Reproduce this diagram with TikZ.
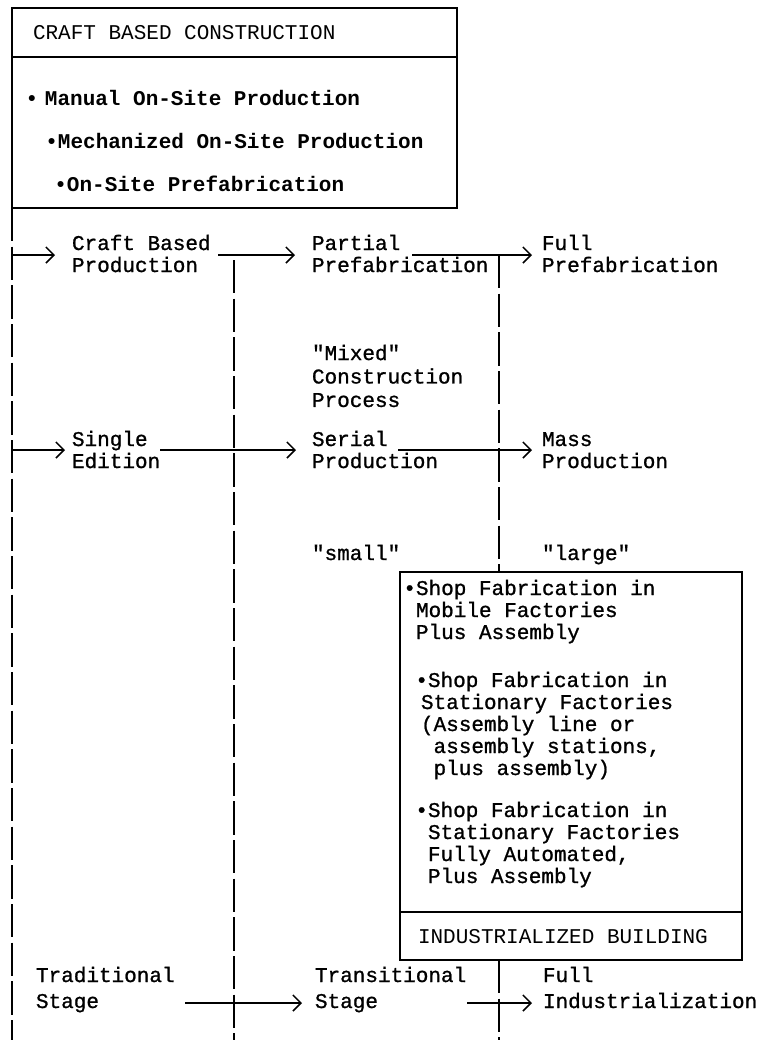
\documentclass[tikz,border=0pt]{standalone}
\usepackage{fontspec}
\setmainfont{Liberation Mono}[Ligatures=TeXOff]
\newfontfamily\bodyfont{Liberation Mono}[Ligatures=TeXOff,FakeBold=1]
\usetikzlibrary{arrows.meta,fit}
\newcommand{\fs}{\fontsize{15.75pt}{16.5pt}\selectfont}
\newcommand{\tstrut}{\rule{0pt}{12pt}}
\newcommand{\bul}[1][0pt]{\llap{•\kern#1}}
\begin{document}
\begin{tikzpicture}[x=0.75pt,y=-0.75pt,
  txt/.style={inner sep=0pt, outer sep=0pt, anchor=north west, align=left, font=\bodyfont\fs},
  light/.style={font=\normalfont\fs},
  bold/.style={font=\normalfont\fs\bfseries},
  boxed/.style={draw, line width=1.5pt, inner sep=0pt, outer sep=0pt},
  vline/.style={line width=1.1pt, dash pattern=on 25pt off 4pt},
  arr/.style={line width=1.1pt, -{Straight Barb[length=6pt,width=12pt]}}]
\fill[white] (0,0) rectangle (765,1040);
\useasboundingbox (0,0) rectangle (765,1040);

% top box
\node[boxed, fit={(12,8) (457,208)}] (cbc) {};
\coordinate (hdiv) at (0,57);
\draw[line width=1.5pt] (cbc.west |- hdiv) -- (cbc.east |- hdiv);
\node[txt,light] (hdr) at (33,23) {\tstrut CRAFT BASED CONSTRUCTION};
\node[txt,bold] (b1) at (45,89) {\tstrut\bul[5pt]Manual On-Site Production};
\node[txt,bold] (b2) at (58,132) {\tstrut\bul Mechanized On-Site Production};
\node[txt,bold] (b3) at (67,175) {\tstrut\bul On-Site Prefabrication};

% bottom box
\node[boxed, fit={(400,572) (742,960)}] (ibox) {};
\coordinate (idiv) at (0,912);
\draw[line width=1.5pt] (ibox.west |- idiv) -- (ibox.east |- idiv);
\node[txt] (g1) at (416,579) {\tstrut\bul Shop Fabrication in\\Mobile Factories\\Plus Assembly};
\node[txt] (g2) at (421,671) {\tstrut\kern5.25pt\bul Shop Fabrication in\\Stationary Factories\\(Assembly line or\\\phantom{(}assembly stations,\\\phantom{(}plus assembly)};
\node[txt] (g3) at (428,801) {\tstrut\bul Shop Fabrication in\\Stationary Factories\\Fully Automated,\\Plus Assembly};
\node[txt,light] (ind) at (418,927) {\tstrut INDUSTRIALIZED BUILDING};

% row texts
\node[txt] (t11) at (72,234) {\tstrut Craft Based\\Production};
\node[txt] (t12) at (312,234) {\tstrut Partial\\Prefabrication};
\node[txt] (t13) at (542,234) {\tstrut Full\\Prefabrication};
\node[txt,font=\bodyfont\fontsize{15.75pt}{17.6pt}\selectfont] (mix) at (312,344) {\tstrut "Mixed"\\Construction\\Process};
\node[txt] (t21) at (72,430) {\tstrut Single\\Edition};
\node[txt] (t22) at (312,430) {\tstrut Serial\\Production};
\node[txt] (t23) at (542,430) {\tstrut Mass\\Production};
\node[txt] (sml) at (312,544) {\tstrut "small"};
\node[txt] (lrg) at (542,544) {\tstrut "large"};
\node[txt,font=\bodyfont\fontsize{15.75pt}{19.5pt}\selectfont] (t31) at (36,966) {\tstrut Traditional\\Stage};
\node[txt,font=\bodyfont\fontsize{15.75pt}{19.5pt}\selectfont] (t32) at (315,966) {\tstrut Transitional\\Stage};
\node[txt,font=\bodyfont\fontsize{15.75pt}{19.5pt}\selectfont] (t33) at (543,966) {\tstrut Full\\Industrialization};

% vertical lines
\coordinate (bot) at (0,1040);
\coordinate (mtop) at (234,260);
\coordinate (rtop) at (499,255);
\draw[vline] (cbc.south west) -- (cbc.south west |- bot);
\draw[vline] (mtop) -- (mtop |- bot);
\draw[vline] (rtop) -- (rtop |- ibox.north);
\draw[vline] (rtop |- ibox.south) -- (rtop |- bot);

% arrows row 1
\coordinate (r1) at (0,255);
\coordinate (s12) at (218,255);
\coordinate (s13) at (412,255);
\draw[arr, shorten >=12.75pt] (cbc.south west |- r1) -- (t11.west |- r1);
\draw[arr, shorten >=12.75pt] (s12) -- (t12.west |- r1);
\draw[arr, shorten >=7.5pt] (s13) -- (t13.west |- r1);
% arrows row 2
\coordinate (r2) at (0,450);
\coordinate (s22) at (160,450);
\coordinate (s23) at (398,450);
\draw[arr, shorten >=5.25pt] (cbc.south west |- r2) -- (t21.west |- r2);
\draw[arr, shorten >=12pt] (s22) -- (t22.west |- r2);
\draw[arr, shorten >=7.5pt] (s23) -- (t23.west |- r2);
% arrows bottom row
\coordinate (s32) at (185,1003);
\coordinate (s33) at (467,1003);
\draw[arr, shorten >=9.75pt] (s32) -- (t32.west |- s32);
\draw[arr, shorten >=8.25pt] (s33) -- (t33.west |- s33);
\end{tikzpicture}
\end{document}
